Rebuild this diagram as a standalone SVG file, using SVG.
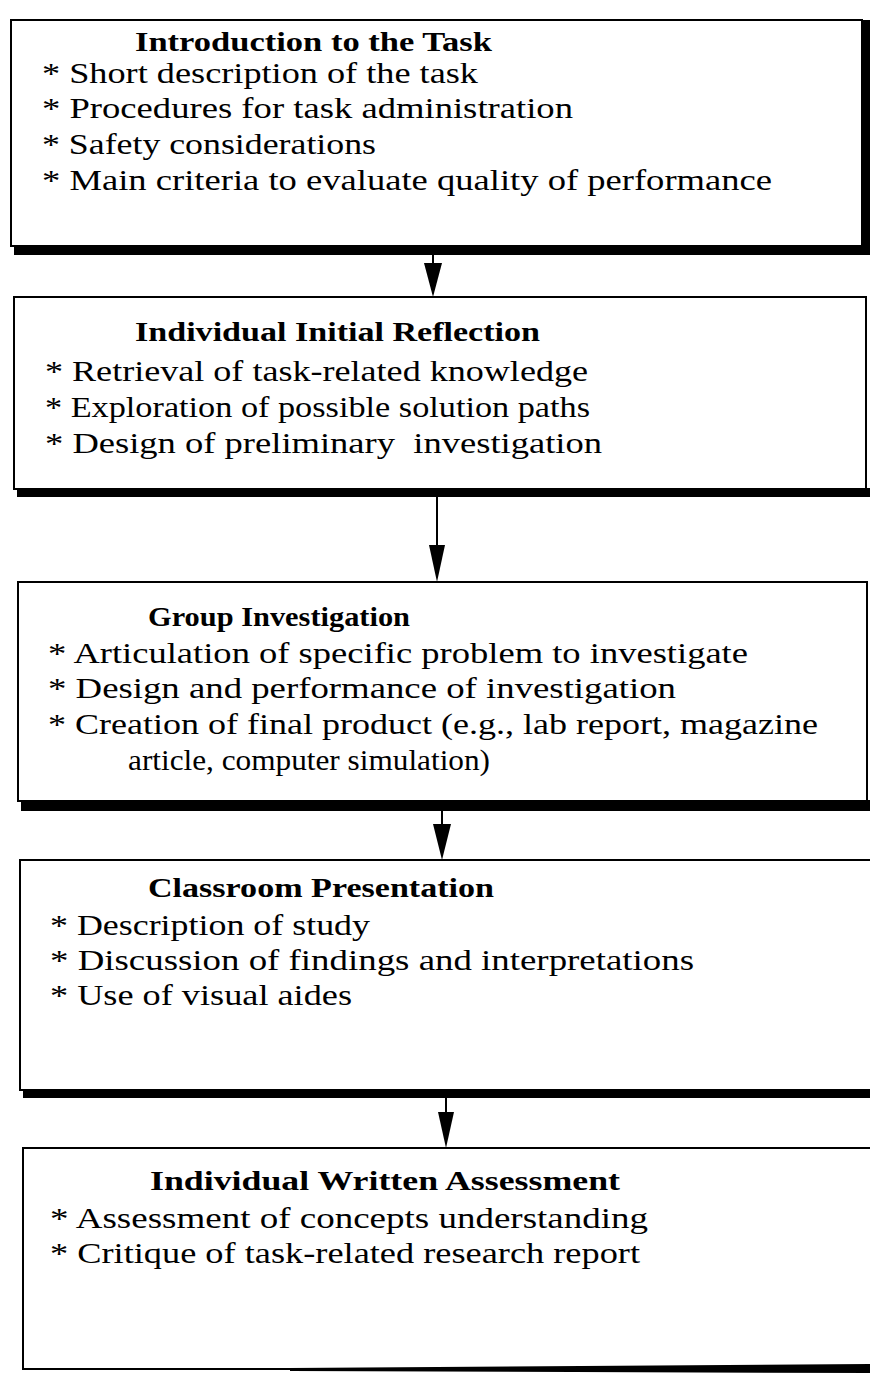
<svg xmlns="http://www.w3.org/2000/svg" width="870" height="1373" viewBox="0 0 870 1373">
<style>
.box{fill:#fff;stroke:#000;stroke-width:2}
.sh{fill:#000}
.t{font-family:"Liberation Serif",serif;font-weight:bold;font-size:28px;fill:#000}
.i{font-family:"Liberation Serif",serif;font-size:30px;fill:#000}
.c{stroke:#000;stroke-width:2;fill:none}
.h{fill:#000}
</style>
<rect width="870" height="1373" fill="#fff"/>
<g id="n1">
<rect class="box" x="11" y="20" width="851" height="226"/>
<rect class="sh" x="14" y="245" width="856" height="10"/>
<rect class="sh" x="861" y="20" width="9" height="235"/>
<text class="t" x="135" y="51" textLength="357" lengthAdjust="spacingAndGlyphs">Introduction to the Task</text>
<text class="i" x="42" y="83" textLength="436" lengthAdjust="spacingAndGlyphs">* Short description of the task</text>
<text class="i" x="42" y="118" textLength="531" lengthAdjust="spacingAndGlyphs">* Procedures for task administration</text>
<text class="i" x="42" y="154" textLength="334" lengthAdjust="spacingAndGlyphs">* Safety considerations</text>
<text class="i" x="42" y="190" textLength="730" lengthAdjust="spacingAndGlyphs">* Main criteria to evaluate quality of performance</text>
</g>
<g id="n2">
<rect class="box" x="14" y="297" width="852" height="192"/>
<rect class="sh" x="17" y="488" width="853" height="9"/>
<text class="t" x="135" y="341" textLength="405" lengthAdjust="spacingAndGlyphs">Individual Initial Reflection</text>
<text class="i" x="45" y="381" textLength="543" lengthAdjust="spacingAndGlyphs">* Retrieval of task-related knowledge</text>
<text class="i" x="45" y="417" textLength="545" lengthAdjust="spacingAndGlyphs">* Exploration of possible solution paths</text>
<text class="i" x="45" y="453" textLength="557" lengthAdjust="spacingAndGlyphs" xml:space="preserve">* Design of preliminary  investigation</text>
</g>
<g id="n3">
<rect class="box" x="18" y="582" width="849" height="219"/>
<rect class="sh" x="21" y="800" width="849" height="11"/>
<text class="t" x="148" y="626" textLength="262" lengthAdjust="spacingAndGlyphs">Group Investigation</text>
<text class="i" x="48" y="663" textLength="700" lengthAdjust="spacingAndGlyphs">* Articulation of specific problem to investigate</text>
<text class="i" x="48" y="698" textLength="628" lengthAdjust="spacingAndGlyphs">* Design and performance of investigation</text>
<text class="i" x="48" y="734" textLength="770" lengthAdjust="spacingAndGlyphs">* Creation of final product (e.g., lab report, magazine</text>
<text class="i" x="128" y="770" textLength="362" lengthAdjust="spacingAndGlyphs">article, computer simulation)</text>
</g>
<g id="n4">
<rect class="box" x="20" y="860" width="868" height="230"/>
<rect class="sh" x="23" y="1089" width="847" height="9"/>
<text class="t" x="148" y="897" textLength="346" lengthAdjust="spacingAndGlyphs">Classroom Presentation</text>
<text class="i" x="50" y="935" textLength="320" lengthAdjust="spacingAndGlyphs">* Description of study</text>
<text class="i" x="50" y="970" textLength="644" lengthAdjust="spacingAndGlyphs">* Discussion of findings and interpretations</text>
<text class="i" x="50" y="1005" textLength="302" lengthAdjust="spacingAndGlyphs">* Use of visual aides</text>
</g>
<g id="n5">
<rect class="box" x="23" y="1148" width="868" height="221"/>
<polygon class="sh" points="290,1368 870,1364 870,1373 290,1371"/>
<text class="t" x="150" y="1190" textLength="470" lengthAdjust="spacingAndGlyphs">Individual Written Assessment</text>
<text class="i" x="50" y="1228" textLength="598" lengthAdjust="spacingAndGlyphs">* Assessment of concepts understanding</text>
<text class="i" x="50" y="1263" textLength="590" lengthAdjust="spacingAndGlyphs">* Critique of task-related research report</text>
</g>
<g id="connectors">
<line class="c" x1="433" y1="255" x2="433" y2="263"/>
<polygon class="h" points="424,263 442,263 433,297"/>
<line class="c" x1="437" y1="497" x2="437" y2="545"/>
<polygon class="h" points="429,545 445,545 437,582"/>
<line class="c" x1="442" y1="811" x2="442" y2="824"/>
<polygon class="h" points="433,824 451,824 442,860"/>
<line class="c" x1="446" y1="1098" x2="446" y2="1112"/>
<polygon class="h" points="438,1112 454,1112 446,1148"/>
</g>
</svg>
